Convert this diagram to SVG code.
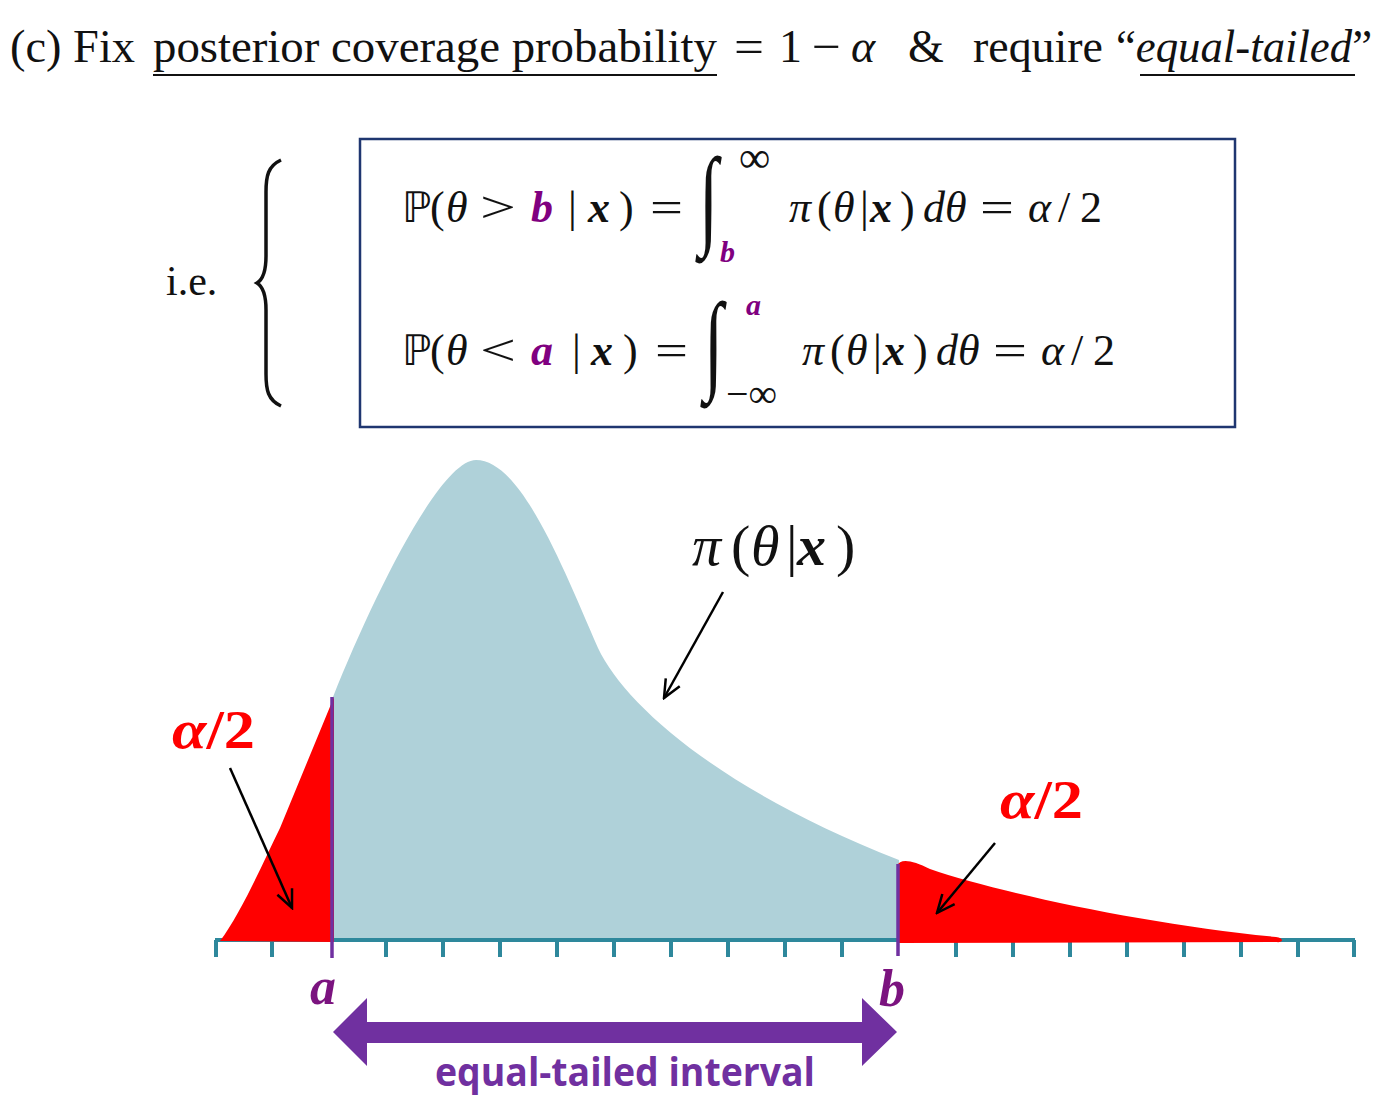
<svg xmlns="http://www.w3.org/2000/svg" width="1396" height="1112" viewBox="0 0 1396 1112">
<defs>
<style>
.cm{font-family:"Liberation Serif","DejaVu Serif",serif;fill:#111}
.it{font-style:italic}
.bi{font-style:italic;font-weight:bold}
.pu{fill:#800080}
.bb{font-family:"DejaVu Sans",sans-serif}
.ptr{stroke:#000;stroke-width:2.5;fill:none}
.ax{stroke:#2e889c;stroke-width:4;fill:none}
.red{fill:#ff0000}
</style>
<marker id="ah" viewBox="0 0 22 22" refX="20" refY="11" markerWidth="22" markerHeight="22" markerUnits="userSpaceOnUse" orient="auto">
<path d="M2,3 L20,11 L2,19" fill="none" stroke="#000" stroke-width="2.5"/>
</marker>
</defs>
<rect width="1396" height="1112" fill="#fff"/>

<g id="title" class="cm" font-size="46">
<text x="10" y="62" textLength="125" lengthAdjust="spacingAndGlyphs">(c) Fix</text>
<text x="153" y="62" textLength="564" lengthAdjust="spacingAndGlyphs">posterior coverage probability</text>
<text x="734" y="62" textLength="30" lengthAdjust="spacingAndGlyphs">=</text>
<text x="779" y="62">1</text>
<text x="812" y="62" textLength="29" lengthAdjust="spacingAndGlyphs">−</text>
<text x="851" y="62" class="it">α</text>
<text x="908" y="62">&amp;</text>
<text x="973" y="62" textLength="130" lengthAdjust="spacingAndGlyphs">require</text>
<text x="1116" y="62" textLength="256" lengthAdjust="spacingAndGlyphs">“<tspan class="it">equal-tailed</tspan>”</text>
<line x1="153" y1="75" x2="717" y2="75" stroke="#111" stroke-width="2"/>
<line x1="1140" y1="75" x2="1355" y2="75" stroke="#111" stroke-width="2"/>
</g>

<g id="ie">
<text x="166" y="295" class="cm" font-size="42">i.e.</text>
<path d="M281,160 C268,166 266,176 266,192 L266,256 C266,272 262,280 257,283 C262,286 266,294 266,310 L266,374 C266,390 268,400 281,406" fill="none" stroke="#111" stroke-width="3.5"/>
</g>

<g id="eqbox">
<rect x="360" y="139" width="875" height="288" fill="none" stroke="#1f3670" stroke-width="2.5"/>
<g class="cm" font-size="44">
<text x="402" y="222" class="bb" font-size="42">ℙ</text>
<text x="430" y="222">(</text>
<text x="446" y="222" class="it">θ</text>
<text x="480" y="222" textLength="36" lengthAdjust="spacingAndGlyphs">&gt;</text>
<text x="531" y="222" class="bi pu">b</text>
<text x="568" y="222">|</text>
<text x="588" y="222" class="bi">x</text>
<text x="619" y="222">)</text>
<text x="650" y="222" textLength="33" lengthAdjust="spacingAndGlyphs">=</text>
<text x="0" y="0" transform="translate(699,234) scale(0.7,1.1)" font-size="100">∫</text>
<text x="739" y="172" font-size="44">∞</text>
<text x="720" y="262" font-size="30" class="bi pu">b</text>
<text x="789" y="222" class="it">π</text>
<text x="817" y="222">(</text>
<text x="833" y="222" class="it">θ</text>
<text x="860" y="222">|</text>
<text x="870" y="222" class="bi">x</text>
<text x="900" y="222">)</text>
<text x="923" y="222" class="it">dθ</text>
<text x="980" y="222" textLength="34" lengthAdjust="spacingAndGlyphs">=</text>
<text x="1028" y="222" class="it">α</text>
<text x="1058" y="222">/</text>
<text x="1080" y="222">2</text>

<text x="402" y="365" class="bb" font-size="42">ℙ</text>
<text x="430" y="365">(</text>
<text x="446" y="365" class="it">θ</text>
<text x="480" y="365" textLength="36" lengthAdjust="spacingAndGlyphs">&lt;</text>
<text x="531" y="365" class="bi pu">a</text>
<text x="572" y="365">|</text>
<text x="591" y="365" class="bi">x</text>
<text x="623" y="365">)</text>
<text x="655" y="365" textLength="33" lengthAdjust="spacingAndGlyphs">=</text>
<text x="0" y="0" transform="translate(704,379) scale(0.7,1.1)" font-size="100">∫</text>
<text x="746" y="315" font-size="30" class="bi pu">a</text>
<text x="726" y="407" font-size="40">−∞</text>
<text x="802" y="365" class="it">π</text>
<text x="830" y="365">(</text>
<text x="846" y="365" class="it">θ</text>
<text x="873" y="365">|</text>
<text x="883" y="365" class="bi">x</text>
<text x="913" y="365">)</text>
<text x="936" y="365" class="it">dθ</text>
<text x="993" y="365" textLength="34" lengthAdjust="spacingAndGlyphs">=</text>
<text x="1041" y="365" class="it">α</text>
<text x="1071" y="365">/</text>
<text x="1093" y="365">2</text>
</g>
</g>

<g id="axis">
<line class="ax" x1="215" y1="940" x2="1355" y2="940"/>
<path class="ax" stroke-width="3.5" d="M216,940V957 M272,940V957 M386,940V957 M443,940V957 M500,940V957 M557,940V957 M614,940V957 M671,940V957 M728,940V957 M785,940V957 M842,940V957 M956,940V957 M1013,940V957 M1070,940V957 M1127,940V957 M1184,940V957 M1241,940V957 M1298,940V957 M1354,940V957"/>
</g>

<g id="density">
<path d="M333,938 L333,697 C373,597 440,460 476,460 C520,460 560,560 598,648 C625,705 720,790 899,860 L899,938 Z" fill="#afd1d9"/>
<path d="M220,941 C240,915 262,865 280,828 L334,697 L334,942 Z" fill="#ff0000"/>
<path d="M897,943 L897,866 C900,858 912,860 930,869 C1000,893 1150,925 1276,937 C1284,938 1284,943 1276,942 Z" fill="#ff0000"/>
<line x1="332" y1="697" x2="332" y2="958" stroke="#7030a0" stroke-width="3.5"/>
<line x1="898" y1="864" x2="898" y2="956" stroke="#7030a0" stroke-width="3.5"/>
</g>

<g id="pi-label" class="cm" font-size="58">
<text x="692" y="565" class="it">π</text>
<text x="731" y="565">(</text>
<text x="751" y="565" class="it">θ</text>
<text x="786" y="565">|</text>
<text x="797" y="565" class="bi">x</text>
<text x="836" y="565">)</text>
</g>

<g id="alpha-left" class="cm" font-size="54" font-weight="bold">
<text x="172" y="748" class="red" textLength="83" lengthAdjust="spacingAndGlyphs"><tspan class="it red">α</tspan><tspan class="red">/2</tspan></text>
</g>
<g id="alpha-right" class="cm" font-size="54" font-weight="bold">
<text x="1000" y="818" class="red" textLength="83" lengthAdjust="spacingAndGlyphs"><tspan class="it red">α</tspan><tspan class="red">/2</tspan></text>
</g>

<g id="ab-labels" class="cm" font-size="52">
<text x="310" y="1004" class="bi" fill="#7b137f">a</text>
<text x="879" y="1006" class="bi" fill="#7b137f">b</text>
</g>

<g id="interval">
<polygon points="333,1032 367,998 367,1022 862,1022 862,998 897,1032 862,1066 862,1043 367,1043 367,1066" fill="#7030a0"/>
<text x="435" y="1086" font-family="'Open Sans','Liberation Sans',sans-serif" font-weight="bold" font-size="40" fill="#7030a0" textLength="380" lengthAdjust="spacingAndGlyphs">equal-tailed interval</text>
</g>

<g id="connectors">
<line class="ptr" x1="230" y1="768" x2="292" y2="908" marker-end="url(#ah)"/>
<line class="ptr" x1="995" y1="843" x2="937" y2="913" marker-end="url(#ah)"/>
<line class="ptr" x1="723" y1="592" x2="664" y2="698" marker-end="url(#ah)"/>
</g>
</svg>
